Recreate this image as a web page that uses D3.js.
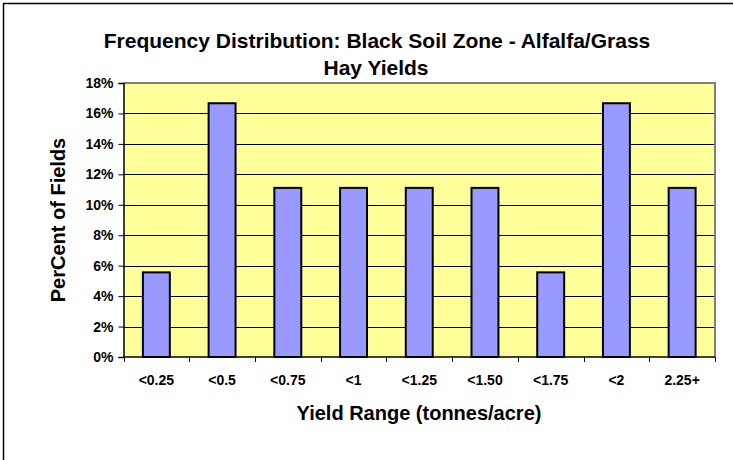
<!DOCTYPE html>
<html>
<head>
<meta charset="utf-8">
<script src="https://cdn.jsdelivr.net/npm/d3@7"></script>
<style>
  body { margin: 0; background: #fff; }
  text { font-family: Arial, "Liberation Sans", sans-serif; font-weight: bold; }
</style>
</head>
<body>
<script>
// chart data
var categories = ["<0.25", "<0.5", "<0.75", "<1", "<1.25", "<1.50", "<1.75", "<2", "2.25+"];
var percents = [5.56, 16.67, 11.11, 11.11, 11.11, 11.11, 5.56, 16.67, 11.11];
var yTicks = [0, 2, 4, 6, 8, 10, 12, 14, 16, 18];

var width = 733,
    height = 460;

var plot = {left: 123.5, top: 83, right: 715, bottom: 357};

var svg = d3.select("body").append("svg")
    .attr("width", width)
    .attr("height", height);

// outer chart border (runs off the right/bottom edge)
svg.append("rect")
    .attr("x", 3.5).attr("y", 3.5)
    .attr("width", 800).attr("height", 500)
    .attr("fill", "none")
    .attr("stroke", "#000")
    .attr("stroke-width", 1.5);

var x = d3.scaleBand()
    .domain(categories)
    .range([plot.left, plot.right])
    .paddingInner(0.59)
    .paddingOuter(0.295);

var xEdge = d3.scaleLinear()
    .domain([0, categories.length])
    .range([plot.left, plot.right]);

var y = d3.scaleLinear()
    .domain([0, 18])
    .range([plot.bottom, plot.top]);

// plot background
svg.append("rect")
    .attr("x", plot.left).attr("y", plot.top)
    .attr("width", plot.right - plot.left)
    .attr("height", plot.bottom - plot.top)
    .attr("fill", "#FFFF99");

// gridlines
svg.append("g")
    .selectAll("line")
    .data(yTicks.slice(1, -1))
    .enter().append("line")
    .attr("x1", plot.left).attr("x2", plot.right)
    .attr("y1", function(d){ return Math.round(y(d)) + 0.5; })
    .attr("y2", function(d){ return Math.round(y(d)) + 0.5; })
    .attr("stroke", "#000")
    .attr("stroke-width", 1);

// plot border top/right grey
svg.append("path")
    .attr("d", "M" + plot.left + "," + plot.top + "H" + plot.right + "V" + plot.bottom)
    .attr("fill", "none")
    .attr("stroke", "#808080")
    .attr("stroke-width", 2);

// bars
svg.append("g")
    .selectAll("rect")
    .data(percents)
    .enter().append("rect")
    .attr("x", function(d, i){ return x(categories[i]); })
    .attr("y", function(d){ return y(d); })
    .attr("width", x.bandwidth())
    .attr("height", function(d){ return y(0) - y(d); })
    .attr("fill", "#9999FF")
    .attr("stroke", "#000")
    .attr("stroke-width", 2);

// y axis
var yAxis = svg.append("g")
    .attr("transform", "translate(" + plot.left + ",0)")
    .call(d3.axisLeft(y)
        .tickValues(yTicks)
        .tickSize(5)
        .tickPadding(5)
        .tickFormat(function(d){ return d + "%"; }));
yAxis.select(".domain").attr("stroke", "#000").attr("stroke-width", 1.5);
yAxis.selectAll(".tick line").attr("stroke", "#000");
yAxis.selectAll("text")
    .attr("font-size", "14px")
    .attr("font-weight", "bold")
    .attr("font-family", "Arial, 'Liberation Sans', sans-serif")
    .attr("fill", "#000");

// x axis: ticks at category edges
var xAxis = svg.append("g")
    .attr("transform", "translate(0," + plot.bottom + ")");
xAxis.append("line")
    .attr("x1", plot.left).attr("x2", plot.right)
    .attr("stroke", "#000").attr("stroke-width", 1.5);
xAxis.selectAll(".edge")
    .data(d3.range(categories.length + 1))
    .enter().append("line")
    .attr("class", "edge")
    .attr("x1", function(d){ return Math.round(xEdge(d)) + 0.5; })
    .attr("x2", function(d){ return Math.round(xEdge(d)) + 0.5; })
    .attr("y1", 0).attr("y2", 5)
    .attr("stroke", "#000");
xAxis.selectAll(".lbl")
    .data(categories)
    .enter().append("text")
    .attr("class", "lbl")
    .attr("x", function(d){ return x(d) + x.bandwidth() / 2; })
    .attr("y", 28)
    .attr("text-anchor", "middle")
    .attr("font-size", "14px")
    .text(function(d){ return d; });

// titles
svg.append("text")
    .attr("x", 377).attr("y", 48)
    .attr("text-anchor", "middle")
    .attr("font-size", "21px")
    .text("Frequency Distribution: Black Soil Zone - Alfalfa/Grass");
svg.append("text")
    .attr("x", 376).attr("y", 75)
    .attr("text-anchor", "middle")
    .attr("font-size", "21px")
    .text("Hay Yields");

svg.append("text")
    .attr("x", 419).attr("y", 420)
    .attr("text-anchor", "middle")
    .attr("font-size", "20px")
    .text("Yield Range (tonnes/acre)");

svg.append("text")
    .attr("transform", "translate(65,220) rotate(-90)")
    .attr("text-anchor", "middle")
    .attr("font-size", "20px")
    .text("PerCent of Fields");
</script>
</body>
</html>
